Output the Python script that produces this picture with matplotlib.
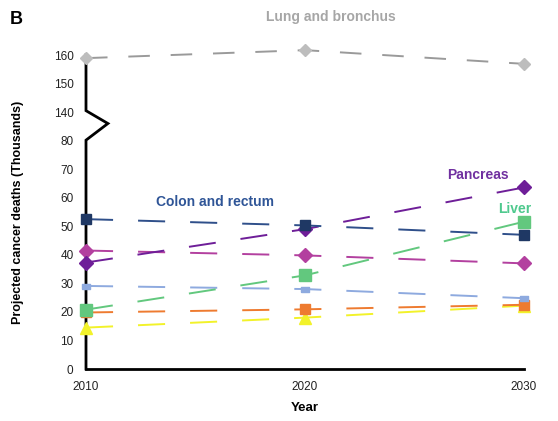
import numpy as np
import matplotlib
matplotlib.use("Agg")
import matplotlib.pyplot as plt

plt.rcParams['font.family'] = ['Liberation Sans', 'DejaVu Sans']
plt.rcParams['lines.scale_dashes'] = False

years = [2010, 2020, 2030]
lung = [158.9, 161.7, 156.9]
colon = [52.5, 50.3, 47.0]
pancreas = [37.3, 49.0, 63.6]
magenta_series = [41.5, 39.8, 37.0]
liver = [20.8, 32.8, 51.6]
lightblue_series = [29.1, 28.0, 24.8]
orange_series = [19.8, 20.9, 22.5]
yellow_series = [14.5, 18.0, 22.2]

yticks = [0, 10, 20, 30, 40, 50, 60, 70, 80, 140, 150, 160]
xticks = [2010, 2020, 2030]


def fwd(v):
    v = np.asarray(v, dtype=float)
    return np.where(v <= 80, v, np.where(v >= 140, v - 50, 80 + (v - 80) / 6.0))


def inv(t):
    t = np.asarray(t, dtype=float)
    return np.where(t <= 80, t, np.where(t >= 90, t + 50, 80 + (t - 80) * 6.0))


fig = plt.figure(figsize=(5.58, 4.21), dpi=100)
ax = fig.add_axes([86 / 558, 1 - 369 / 421, (524 - 86) / 558, (369 - 55) / 421])
ax.set_yscale('function', functions=(fwd, inv))
ax.set_ylim(0, 160)
ax.set_xlim(2010, 2030)

rect = [(-1, -0.6), (1, -0.6), (1, 0.6), (-1, 0.6), (-1, -0.6)]
dash = (0, (19.5, 18))
lung_dash = (0, (15.5, 15))
series = [
    (lung, '#bdbdbd', '#9a9a9a', 'D', 6.5, lung_dash),
    (yellow_series, '#f2f22a', '#f2f22a', '^', 8, dash),
    (orange_series, '#ee7b30', '#ee7b30', 's', 7, dash),
    (lightblue_series, '#8eaadf', '#8eaadf', rect, 6, dash),
    (liver, '#62c87e', '#62c87e', 's', 8.3, dash),
    (magenta_series, '#b3409f', '#b3409f', 'D', 6.8, dash),
    (pancreas, '#6e1e98', '#6e1e98', 'D', 6.8, dash),
    (colon, '#1f3864', '#2f4f8a', 's', 6.8, dash),
]
for vals, mcol, lcol, mk, ms, ls in series:
    ax.plot(years, vals, color=lcol, lw=1.4, linestyle=ls, zorder=3, clip_on=False)
    ax.plot(years, vals, linestyle='none', marker=mk, ms=ms, color=mcol,
            markeredgecolor=mcol, clip_on=False, zorder=4)

# axes styling
for s in ['top', 'right', 'left']:
    ax.spines[s].set_visible(False)
ax.spines['bottom'].set_linewidth(2)
ax.spines['bottom'].set_color('black')
ax.plot([2010, 2010, 2011, 2010, 2010], [0, 81, 116, 140.5, 160],
        color='black', lw=2, clip_on=False, zorder=2, solid_joinstyle='miter')

ax.set_yticks(yticks)
ax.set_yticklabels([str(v) for v in yticks])
ax.set_xticks(xticks)
ax.set_xticklabels([str(v) for v in xticks])
ax.minorticks_off()
ax.tick_params(axis='both', length=0, labelsize=8.5, colors='#222222')
ax.tick_params(axis='y', pad=9)
ax.tick_params(axis='x', pad=9)

ax.set_xlabel('Year', fontsize=9.5, fontweight='bold', labelpad=6)
ax.set_ylabel('Projected cancer deaths (Thousands)', fontsize=9, fontweight='bold')
ax.yaxis.set_label_coords(-0.1416, 0.5)

ax.text(2015.9, 58.6, 'Colon and rectum', color='#2f5597', fontsize=10,
        fontweight='bold', ha='center', va='center')
ax.text(2027.9, 67.8, 'Pancreas', color='#7030a0', fontsize=10,
        fontweight='bold', ha='center', va='center')
ax.text(2029.6, 56.1, 'Liver', color='#4fc98e', fontsize=10,
        fontweight='bold', ha='center', va='center')
fig.text(331 / 558, 1 - 17 / 421, 'Lung and bronchus', color='#a6a6a6', fontsize=10,
         fontweight='bold', ha='center', va='center')
fig.text(10 / 558, 1 - 20 / 421, 'B', fontsize=13, fontweight='bold', ha='left', va='center')

fig.savefig('out.png', dpi=100)
